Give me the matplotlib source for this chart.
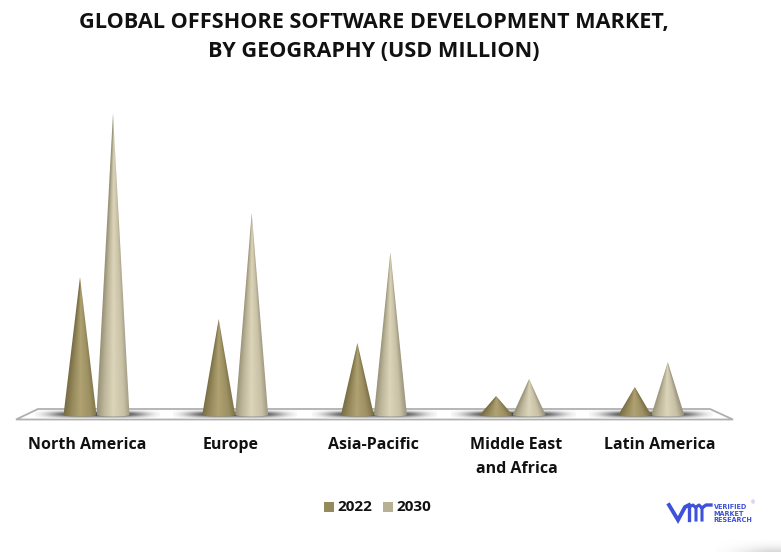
import numpy as np
import matplotlib
matplotlib.use("Agg")
import matplotlib.pyplot as plt
from matplotlib.patches import Polygon, PathPatch
from matplotlib.path import Path
from matplotlib.colors import to_rgb

categories = ["North America", "Europe", "Asia-Pacific", "Middle East\nand Africa", "Latin America"]
series_names = ["2022", "2030"]
values_2022 = [138, 96, 72, 19, 28]
values_2030 = [302, 202, 163, 36, 53]
title = "GLOBAL OFFSHORE SOFTWARE DEVELOPMENT MARKET,\nBY GEOGRAPHY (USD MILLION)"
legend_colors = ["#968a5c", "#b8b094"]
shades_2022 = ["#7a6f45", "#94885a", "#b0a272", "#9d9062", "#7d7248"]
shades_2030 = ["#9a9479", "#bdb69a", "#dcd5ba", "#c8c1a6", "#9c9680"]

plt.rcParams["font.family"] = ["Open Sans", "DejaVu Sans"]
W, H = 781, 552
fig = plt.figure(figsize=(W / 100, H / 100), dpi=100, facecolor="white")
ax = fig.add_axes([0, 0, 1, 1])
ax.axis("off")

# main data scale: 1 category = 138.7 px, 1 value unit = 1 px
SP = 138.7
X0 = 96.5
BASE = 415.0
xlim = (-X0 / SP, (W - X0) / SP)
ylim = (BASE - H, BASE)
ppx = 1 / SP
OFF = 16.5 * ppx
HW = 16.5 * ppx


def gradient_stops(colors, u):
    stops = np.array([-1, -0.6, -0.05, 0.6, 1.0])
    arr = np.array([to_rgb(c) for c in colors])
    return np.stack([np.interp(u, stops, arr[:, k]) for k in range(3)], axis=-1)


def floor():
    px = lambda v: (v - X0) / SP
    pts = [(px(16), -4.5), (px(38), 6), (px(710), 6), (px(733), -4.5)]
    ax.add_patch(Polygon(pts, closed=True, fc="white", ec="#b0b0b0", lw=1.3, zorder=1))


def shadow(cx):
    n = 220
    x = np.linspace(-62, 62, n)
    y = np.linspace(-3.5, 4.5, 30)
    X, Y = np.meshgrid(x, y)
    a = np.exp(-(X / 47) ** 4 - ((Y - 0.2) / 3.0) ** 2) * 0.95
    img = np.zeros((30, n, 4))
    img[..., 3] = a
    img[..., :3] = 0.18
    ax.imshow(img, extent=(cx - 62 * ppx, cx + 62 * ppx, -3.5, 4.5), aspect="auto",
              origin="lower", zorder=2, interpolation="bilinear")


def cone(cx, h, colors):
    t = np.linspace(-1, 1, 41)
    bx = cx + HW * t
    by = -1.5 * np.sqrt(1 - t ** 2)
    verts = list(zip(bx, by)) + [(cx, h)] + [(bx[0], by[0])]
    codes = [Path.MOVETO] + [Path.LINETO] * (len(verts) - 2) + [Path.CLOSEPOLY]
    clip = PathPatch(Path(verts, codes), fc="none", ec="none", transform=ax.transData)
    ax.add_patch(clip)
    nx, ny = 120, 240
    xs = np.linspace(-1, 1, nx)
    ys = np.linspace(0, 0.995, ny)
    X, Y = np.meshgrid(xs, ys)
    u = np.clip(X / (1 - Y), -1, 1)
    img = gradient_stops(colors, u)
    im = ax.imshow(img, extent=(cx - HW, cx + HW, -2, h), aspect="auto", origin="lower",
                   zorder=3, interpolation="bilinear")
    im.set_clip_path(clip)


floor()
for i in range(len(categories)):
    shadow(i)
for i, (a, b) in enumerate(zip(values_2022, values_2030)):
    cone(i - OFF, a, shades_2022)
    cone(i + OFF, b, shades_2030)

ax.set_xlim(*xlim)
ax.set_ylim(*ylim)

# category labels use the chart's front edge spacing
lab = fig.add_axes([0, 0, 1, 1], facecolor="none")
lab.axis("off")
lab.set_xlim(-87.5 / 143, (W - 87.5) / 143)
lab.set_ylim(H, 0)
for i, c in enumerate(categories):
    lab.text(i, 437, c, ha="center", va="top", fontsize=11.5, fontweight="bold",
             color="#111111", linespacing=1.68)

fig.text(374 / W, 1 - 37 / H, title, ha="center", va="center", fontsize=15.6, fontweight="bold",
         color="#111111", linespacing=1.45)

# legend
for (xl, xt, col, name) in zip([324, 383], [337.5, 396], legend_colors, series_names):
    fig.patches.append(plt.Rectangle((xl / W, 1 - 512 / H), 10 / W, 10 / H, transform=fig.transFigure,
                                     fc=col, ec="none"))
    fig.text(xt / W, 1 - 507 / H, name, ha="left", va="center", fontsize=11,
             fontweight="bold", color="#111111")

# logo
blue = "#3f51d8"
logo = fig.add_axes([0, 0, 1, 1], facecolor="none")
logo.axis("off")
logo.set_xlim(0, W)
logo.set_ylim(H, 0)
logo.plot([669, 678, 685, 689], [505, 520, 507, 505], color=blue, lw=2.8, solid_joinstyle="miter")
logo.plot([689, 689], [520, 506], color=blue, lw=2.4)
logo.plot([689, 693, 696, 696], [507, 505, 508, 520], color=blue, lw=2.2)
logo.plot([696, 699, 702, 702], [507, 505, 508, 520], color=blue, lw=2.2)
logo.plot([702, 706, 711], [508, 505, 505], color=blue, lw=2.4)
for y, s in zip([507, 513.5, 520], ["VERIFIED", "MARKET", "RESEARCH"]):
    logo.text(713.5, y, s, ha="left", va="center", fontsize=4.7, color=blue,
              fontweight="semibold", family="DejaVu Sans")
logo.text(752.5, 502.5, "®", fontsize=3.5, color="#8a93e0", ha="center", va="center")

# soft grey smudge in the lower right corner
yy, xx = np.mgrid[540:552, 715:781]
g = np.exp(-((xx - 775) / 35.0) ** 2 - ((yy - 556) / 9.0) ** 2) * 0.45
rgba = np.zeros(g.shape + (4,))
rgba[..., :3] = 0.55
rgba[..., 3] = g
logo.imshow(rgba, extent=(715, 781, 552, 540), aspect="auto", interpolation="bilinear")
logo.set_xlim(0, W)
logo.set_ylim(H, 0)

fig.savefig("out.png", dpi=100)
